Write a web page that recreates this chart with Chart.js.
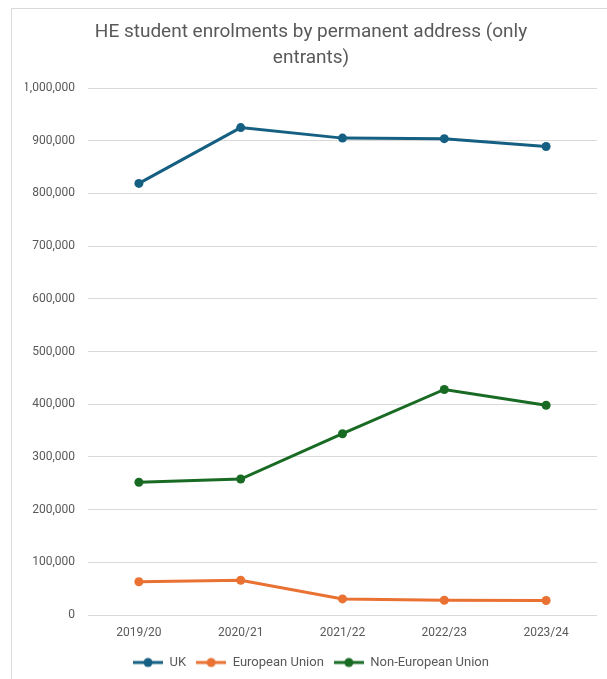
<!DOCTYPE html>
<html>
<head>
<meta charset="utf-8">
<script src="https://cdn.jsdelivr.net/npm/chart.js@4/dist/chart.umd.min.js"></script>
<style>
  html, body { margin: 0; padding: 0; background: #fff; }
  #wrap { position: relative; width: 607px; height: 679px; overflow: hidden; }
  #frame { position: absolute; left: 11px; top: 8px; width: 700px; height: 700px; border: 1px solid #d9d9d9; }
  #chart { position: absolute; left: 0; top: 0; }
</style>
</head>
<body>
<div id="wrap">
  <div id="frame"></div>
  <canvas id="chart" width="607" height="679"></canvas>
</div>
<script>
// chart data
var years = ['2019/20', '2020/21', '2021/22', '2022/23', '2023/24'];
var ukValues = [819000, 925000, 905000, 904000, 889000];
var euValues = [63000, 66000, 30500, 28000, 27500];
var nonEuValues = [252000, 258000, 344000, 428000, 398000];
var seriesNames = ['UK', 'European Union', 'Non-European Union'];
var seriesColors = ['#156082', '#E97132', '#196B24'];

var textColor = '#595959';
var fontFamily = 'Roboto, "Noto Sans", sans-serif';

// small line + dot icon for the legend, like the spreadsheet one
function legendIcon(color) {
    var c = document.createElement('canvas');
    c.width = 30;
    c.height = 12;
    var g = c.getContext('2d');
    g.strokeStyle = color;
    g.lineWidth = 3;
    g.beginPath();
    g.moveTo(0, 6);
    g.lineTo(30, 6);
    g.stroke();
    g.fillStyle = color;
    g.beginPath();
    g.arc(15, 6, 4.5, 0, Math.PI * 2);
    g.fill();
    return c;
}

function makeDataset(i, values) {
    return {
        label: seriesNames[i],
        data: values,
        borderColor: seriesColors[i],
        backgroundColor: seriesColors[i],
        borderWidth: 3,
        pointRadius: 4.5,
        pointHoverRadius: 4.5,
        pointBorderWidth: 0,
        tension: 0,
        fill: false
    };
}

var ctx = document.getElementById('chart').getContext('2d');
new Chart(ctx, {
    type: 'line',
    data: {
        labels: years,
        datasets: [
            makeDataset(0, ukValues),
            makeDataset(1, euValues),
            makeDataset(2, nonEuValues)
        ]
    },
    options: {
        responsive: false,
        animation: false,
        layout: { padding: { left: 25, right: 10, top: 0, bottom: 0 } },
        plugins: {
            title: {
                display: true,
                text: ['HE student enrolments by permanent address (only', 'entrants)'],
                color: textColor,
                font: { family: fontFamily, size: 19, weight: 'normal', lineHeight: 1.37 },
                padding: { top: 19, bottom: 17 }
            },
            legend: {
                position: 'bottom',
                labels: {
                    color: textColor,
                    font: { family: fontFamily, size: 13 },
                    usePointStyle: true,
                    pointStyleWidth: 30,
                    padding: 10,
                    generateLabels: function (chart) {
                        return chart.data.datasets.map(function (ds, i) {
                            return {
                                text: ds.label,
                                pointStyle: legendIcon(seriesColors[i]),
                                fillStyle: seriesColors[i],
                                strokeStyle: seriesColors[i],
                                lineWidth: 0,
                                fontColor: textColor,
                                datasetIndex: i
                            };
                        });
                    }
                }
            },
            tooltip: { enabled: false }
        },
        scales: {
            x: {
                offset: true,
                grid: { display: false, drawTicks: false },
                border: { display: false },
                ticks: {
                    color: textColor,
                    font: { family: fontFamily, size: 12 },
                    padding: 11,
                    maxRotation: 0
                },
                afterFit: function (scale) { scale.height = 31; }
            },
            y: {
                min: 0,
                max: 1000000,
                grid: { color: '#d9d9d9', lineWidth: 1, drawTicks: false },
                border: { display: false },
                ticks: {
                    stepSize: 100000,
                    color: textColor,
                    font: { family: fontFamily, size: 12 },
                    padding: 13,
                    callback: function (value) { return value.toLocaleString('en-GB'); }
                },
                afterFit: function (scale) { scale.width = 63; }
            }
        }
    }
});
</script>
</body>
</html>
